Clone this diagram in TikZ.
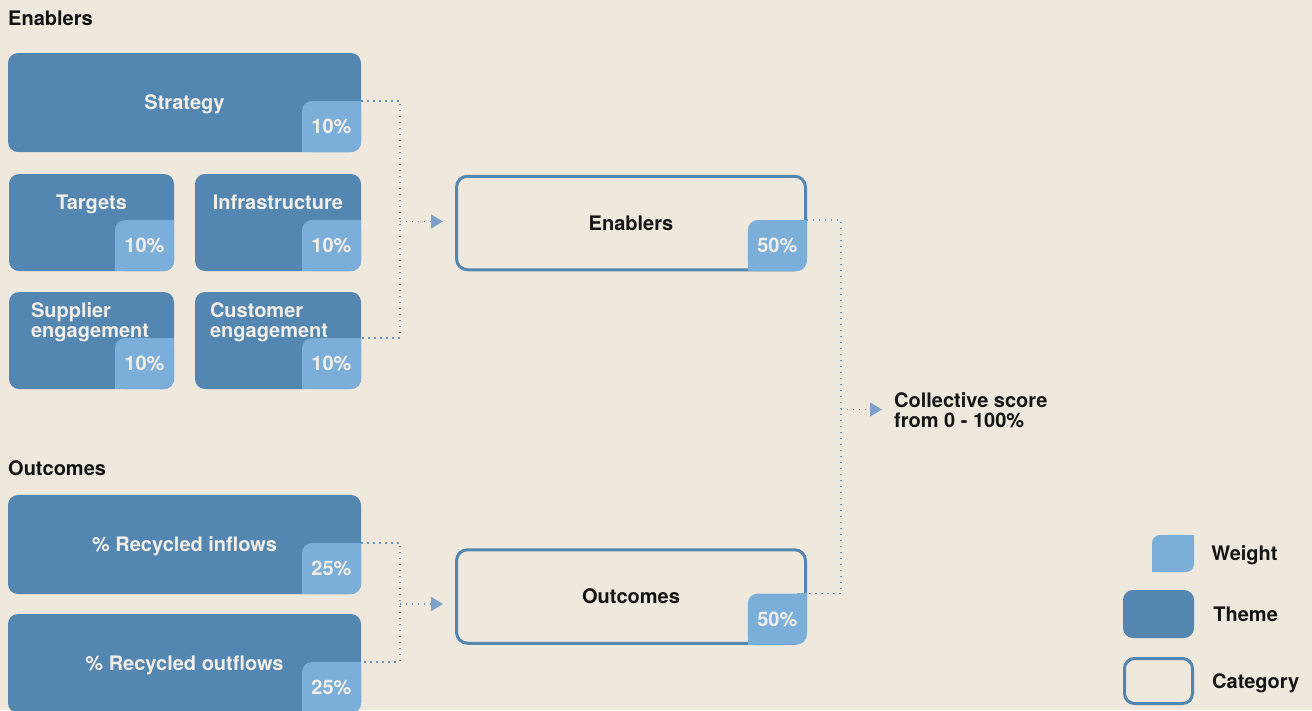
\documentclass[tikz,border=0pt]{standalone}
\usepackage{fontspec}
\setmainfont{TeX Gyre Heros}
\usetikzlibrary{arrows.meta,positioning}

\definecolor{paper}{HTML}{EFE8DC}
\definecolor{themeblue}{HTML}{5386B0}
\definecolor{weightblue}{HTML}{7BAFDA}
\definecolor{linkblue}{HTML}{6593BF}
\definecolor{tipblue}{HTML}{7CA2CB}
\definecolor{cream}{HTML}{F2EEE7}
\definecolor{ink}{HTML}{141414}
\newcommand{\boldtext}{\bfseries\fontsize{20}{20}\selectfont}

\tikzset{
  themebox/.style={fill=themeblue, rounded corners=10pt, inner sep=0pt, text=cream,
    font=\boldtext, text height=14.5pt, text depth=0pt},
  weightbox/.style={fill=weightblue, rounded corners=10pt, inner sep=0pt,
    minimum width=59pt, minimum height=51pt, text=cream, font=\boldtext,
    text height=14pt, text depth=0pt,
    append after command={\pgfextra{%
      \fill[weightblue, sharp corners] (\tikzlastnode.north east) rectangle ++(-10,10);
      \fill[weightblue, sharp corners] (\tikzlastnode.south west) rectangle ++(10,-10);}}},
  catbox/.style={draw=themeblue, line width=3pt, rounded corners=11pt, inner sep=0pt,
    minimum width=349pt, minimum height=93.5pt, text=ink, font=\boldtext,
    text height=14.5pt, text depth=0pt},
  lbl/.style={text=cream, font=\boldtext, inner sep=0pt},
  head/.style={text=ink, font=\boldtext, inner sep=0pt, text height=14.5pt, text depth=0pt},
  note/.style={text=ink, font=\boldtext, inner sep=0pt, align=left},
  link/.style={draw=linkblue, line width=1.4pt, dash pattern=on 1.4pt off 4.6pt},
  arr/.style={-{Triangle[length=12pt, width=14pt, color=tipblue]}, shorten >=12pt},
}

\begin{document}
\begin{tikzpicture}[x=1pt, y=-1pt]
  \useasboundingbox (0,0) rectangle (1312,710);
  \fill[paper] (0,0) rectangle (1312,710);

  % enablers
  \node[head, anchor=west] (enablers-head) at (8,18.5) {Enablers};
  \node[themebox, minimum width=353pt, minimum height=99pt] (strategy) at (184.5,102.5) {Strategy};
  \node[weightbox, anchor=south east] (strategy-w) at (strategy.south east) {10\%};
  \node[themebox, minimum width=165pt, minimum height=97pt] (targets) at (91.5,222.5) {};
  \node[weightbox, anchor=south east] (targets-w) at (targets.south east) {10\%};
  \node[lbl, anchor=base] (targets-t) at ([yshift=-36pt]targets.north) {Targets};
  \node[themebox, minimum width=166pt, minimum height=97pt] (infra) at (278,222.5) {};
  \node[weightbox, anchor=south east] (infra-w) at (infra.south east) {10\%};
  \node[lbl, anchor=base] (infra-t) at ([yshift=-36pt]infra.north) {Infrastructure};
  \node[themebox, minimum width=165pt, minimum height=97pt] (supplier) at (91.5,340.5) {};
  \node[weightbox, anchor=south east] (supplier-w) at (supplier.south east) {10\%};
  \node[lbl, align=left, anchor=north west] (supplier-t) at ([xshift=22pt,yshift=-10.5pt]supplier.north west) {Supplier\\engagement};
  \node[themebox, minimum width=166pt, minimum height=97pt] (customer) at (278,340.5) {};
  \node[weightbox, anchor=south east] (customer-w) at (customer.south east) {10\%};
  \node[lbl, align=left, anchor=north west] (customer-t) at ([xshift=15pt,yshift=-10.5pt]customer.north west) {Customer\\engagement};

  % outcomes
  \node[head, anchor=west] (outcomes-head) at (8,468) {Outcomes};
  \node[themebox, minimum width=353pt, minimum height=99pt] (inflows) at (184.5,544.5) {\% Recycled inflows};
  \node[weightbox, anchor=south east] (inflows-w) at (inflows.south east) {25\%};
  \node[themebox, minimum width=353pt, minimum height=99pt] (outflows) at (184.5,663.5) {\% Recycled outflows};
  \node[weightbox, anchor=south east] (outflows-w) at (outflows.south east) {25\%};

  % categories
  \node[catbox] (enablers) at (631,223) {Enablers};
  \node[weightbox, anchor=south east] (enablers-w) at (enablers.south east) {50\%};
  \node[catbox] (outcomes) at (631,596.5) {Outcomes};
  \node[weightbox, anchor=south east] (outcomes-w) at (outcomes.south east) {50\%};
  \node[note, anchor=west] (score) at (894,410) {Collective score\\from 0 - 100\%};

  % connectors
  \coordinate (enablers-bar) at (400,221.5);
  \draw[link] (strategy-w.north east) -| (enablers-bar) |- (customer-w.north east);
  \draw[link, arr] (enablers-bar) -- (enablers-bar -| enablers.west);
  \coordinate (outcomes-bar) at (400,604);
  \draw[link] (inflows-w.north east) -| (outcomes-bar) |- (outflows-w.north east);
  \draw[link, arr] (outcomes-bar) -- (outcomes-bar -| outcomes.west);
  \coordinate (score-bar) at (841,409.5);
  \draw[link] (enablers-w.north east) -| (score-bar) |- (outcomes-w.north east);
  \draw[link, arr] (score-bar) -- (score-bar -| score.west);

  % legend
  \node[weightbox, minimum width=42pt, minimum height=37pt, rounded corners=8pt] (legend-w) at (1173,553.5) {};
  \node[head, right=17pt of legend-w] (legend-w-t) {Weight};
  \node[themebox, minimum width=71pt, minimum height=48pt] (legend-t) at (1158.5,614) {};
  \node[head, right=19pt of legend-t] (legend-t-t) {Theme};
  \node[catbox, minimum width=68pt, minimum height=45pt, rounded corners=10pt] (legend-c) at (1158.5,681) {};
  \node[head, right=18pt of legend-c] (legend-c-t) {Category};
\end{tikzpicture}
\end{document}
